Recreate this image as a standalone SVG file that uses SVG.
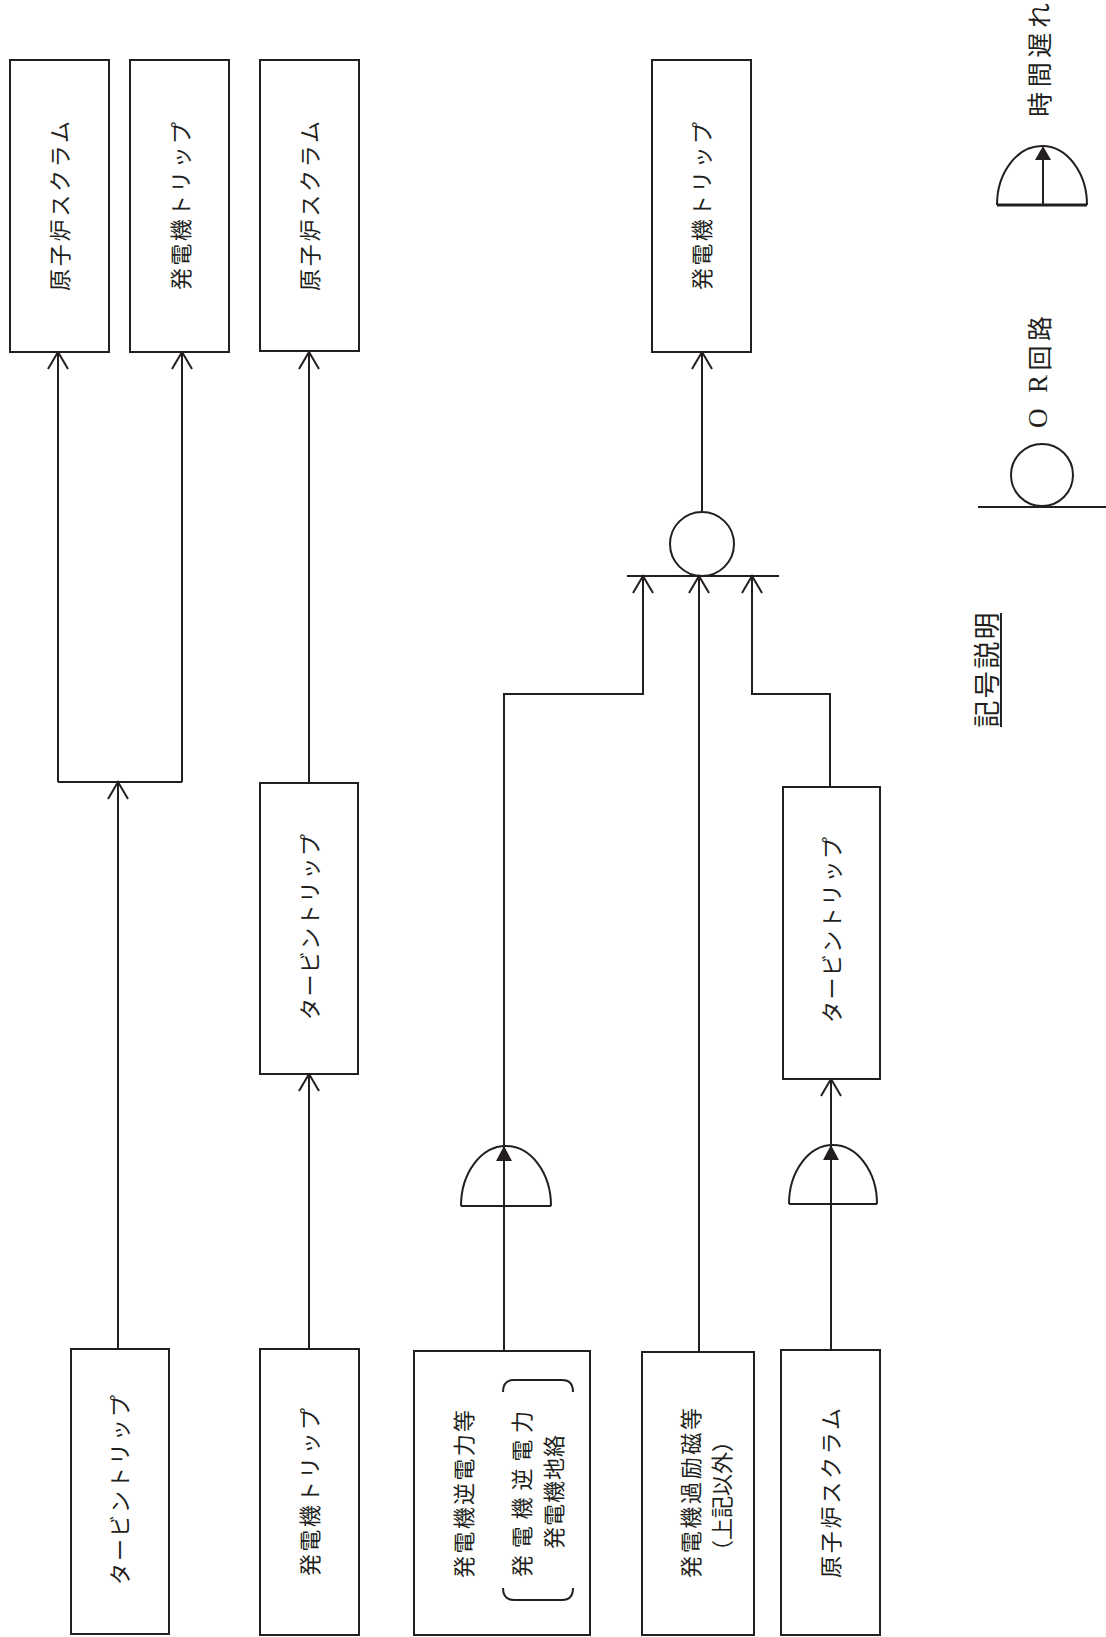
<svg xmlns="http://www.w3.org/2000/svg" width="1106" height="1637" viewBox="0 0 1106 1637">
<style>
.box{fill:#fff;stroke:#231f20;stroke-width:2}
.ln{fill:none;stroke:#231f20;stroke-width:2}
.t{font-family:"Noto Sans CJK JP","Noto Sans CJK SC",sans-serif;font-size:22px;fill:#231f20;text-anchor:middle;dominant-baseline:central}
.lg{font-size:25px}
.tri{fill:#231f20;stroke:none}
</style>
<defs>
<marker id="arr" markerUnits="userSpaceOnUse" viewBox="-19 -12 21 24" markerWidth="21" markerHeight="24" refX="0" refY="0" orient="auto">
<path d="M-17 -10 L0 0 L-17 10" fill="none" stroke="#231f20" stroke-width="2"/>
</marker>
</defs>

<g id="connectors">
<path class="ln" d="M118 1349 V782" marker-end="url(#arr)"/>
<path class="ln" d="M58 782 H182"/>
<path class="ln" d="M58 782 V352" marker-end="url(#arr)"/>
<path class="ln" d="M182 782 V352" marker-end="url(#arr)"/>
<path class="ln" d="M309 1349 V1074" marker-end="url(#arr)"/>
<path class="ln" d="M309 783 V352" marker-end="url(#arr)"/>
<path class="ln" d="M504 1351 V694 H643 V576" marker-end="url(#arr)"/>
<path class="ln" d="M699 1352 V576" marker-end="url(#arr)"/>
<path class="ln" d="M831 1350 V1079" marker-end="url(#arr)"/>
<path class="ln" d="M830 787 V694 H752 V576" marker-end="url(#arr)"/>
<path class="ln" d="M702 512 V352" marker-end="url(#arr)"/>
</g>

<g id="or-gate">
<circle class="ln" cx="702" cy="544" r="32" fill="#fff"/>
<path class="ln" d="M627 576 H779"/>
</g>

<g id="delay-gate-1">
<path class="ln" d="M461 1206 A45 60 0 0 1 551 1206"/>
<path class="ln" d="M461 1206 H551"/>
<path class="tri" d="M504 1146 L496 1161 L512 1161 Z"/>
</g>
<g id="delay-gate-2">
<path class="ln" d="M789 1204 A44 59 0 0 1 877 1204"/>
<path class="ln" d="M789 1204 H877"/>
<path class="tri" d="M831 1145 L823 1160 L839 1160 Z"/>
</g>

<g id="n-top1">
<rect class="box" x="10" y="60" width="99" height="292"/>
<text class="t" transform="translate(58,206) rotate(-90)" textLength="170" lengthAdjust="spacing">原子炉スクラム</text>
</g>
<g id="n-top2">
<rect class="box" x="130" y="60" width="99" height="292"/>
<text class="t" transform="translate(179,206) rotate(-90)" textLength="168" lengthAdjust="spacing">発電機トリップ</text>
</g>
<g id="n-top3">
<rect class="box" x="260" y="60" width="99" height="291"/>
<text class="t" transform="translate(308,206) rotate(-90)" textLength="170" lengthAdjust="spacing">原子炉スクラム</text>
</g>
<g id="n-top4">
<rect class="box" x="652" y="60" width="99" height="292"/>
<text class="t" transform="translate(700,206) rotate(-90)" textLength="168" lengthAdjust="spacing">発電機トリップ</text>
</g>

<g id="n-mid1">
<rect class="box" x="260" y="783" width="98" height="291"/>
<text class="t" transform="translate(308,927) rotate(-90)" textLength="186" lengthAdjust="spacing">タービントリップ</text>
</g>
<g id="n-mid2">
<rect class="box" x="783" y="787" width="97" height="292"/>
<text class="t" transform="translate(830,930) rotate(-90)" textLength="186" lengthAdjust="spacing">タービントリップ</text>
</g>

<g id="n-bot1">
<rect class="box" x="71" y="1349" width="98" height="285"/>
<text class="t" transform="translate(118,1490) rotate(-90)" textLength="190" lengthAdjust="spacing">タービントリップ</text>
</g>
<g id="n-bot2">
<rect class="box" x="260" y="1349" width="99" height="286"/>
<text class="t" transform="translate(308,1492) rotate(-90)" textLength="168" lengthAdjust="spacing">発電機トリップ</text>
</g>
<g id="n-bot3">
<rect class="box" x="414" y="1351" width="176" height="284"/>
<text class="t" transform="translate(462,1494) rotate(-90)" textLength="168" lengthAdjust="spacing">発電機逆電力等</text>
<path class="ln" d="M503 1392 Q503 1380 514 1380 H562 Q573 1380 573 1392"/>
<path class="ln" d="M503 1588 Q503 1600 514 1600 H562 Q573 1600 573 1588"/>
<text class="t" transform="translate(520,1494) rotate(-90)" textLength="166" lengthAdjust="spacing">発電機逆電力</text>
<text class="t" transform="translate(552,1492) rotate(-90)" textLength="114" lengthAdjust="spacing">発電機地絡</text>
</g>
<g id="n-bot4">
<rect class="box" x="642" y="1352" width="112" height="283"/>
<text class="t" transform="translate(689,1493) rotate(-90)" textLength="170" lengthAdjust="spacing">発電機過励磁等</text>
<text class="t" transform="translate(720,1496) rotate(-90)" textLength="132" lengthAdjust="spacing">（上記以外）</text>
</g>
<g id="n-bot5">
<rect class="box" x="781" y="1350" width="99" height="285"/>
<text class="t" transform="translate(829,1493) rotate(-90)" textLength="170" lengthAdjust="spacing">原子炉スクラム</text>
</g>

<g id="legend">
<text class="t" style="font-size:27px" transform="translate(985,670) rotate(-90)" textLength="115" lengthAdjust="spacing">記号説明</text>
<path class="ln" d="M1001 613 V727"/>
<circle class="ln" cx="1042" cy="475" r="31"/>
<path class="ln" d="M978 507 H1106"/>
<text class="t lg" transform="translate(1038,372) rotate(-90)" textLength="112" lengthAdjust="spacing"><tspan font-family="Liberation Serif, serif" font-size="27">O R</tspan>回路</text>
<path class="ln" d="M997 205 A45 59 0 0 1 1087 205"/>
<path class="ln" d="M997 205 H1087" style="stroke-width:3"/>
<path class="ln" d="M1043 205 V155"/>
<path class="tri" d="M1043 146 L1035 160 L1051 160 Z"/>
<text class="t lg" transform="translate(1038,60) rotate(-90)" textLength="114" lengthAdjust="spacing">時間遅れ</text>
</g>
</svg>
